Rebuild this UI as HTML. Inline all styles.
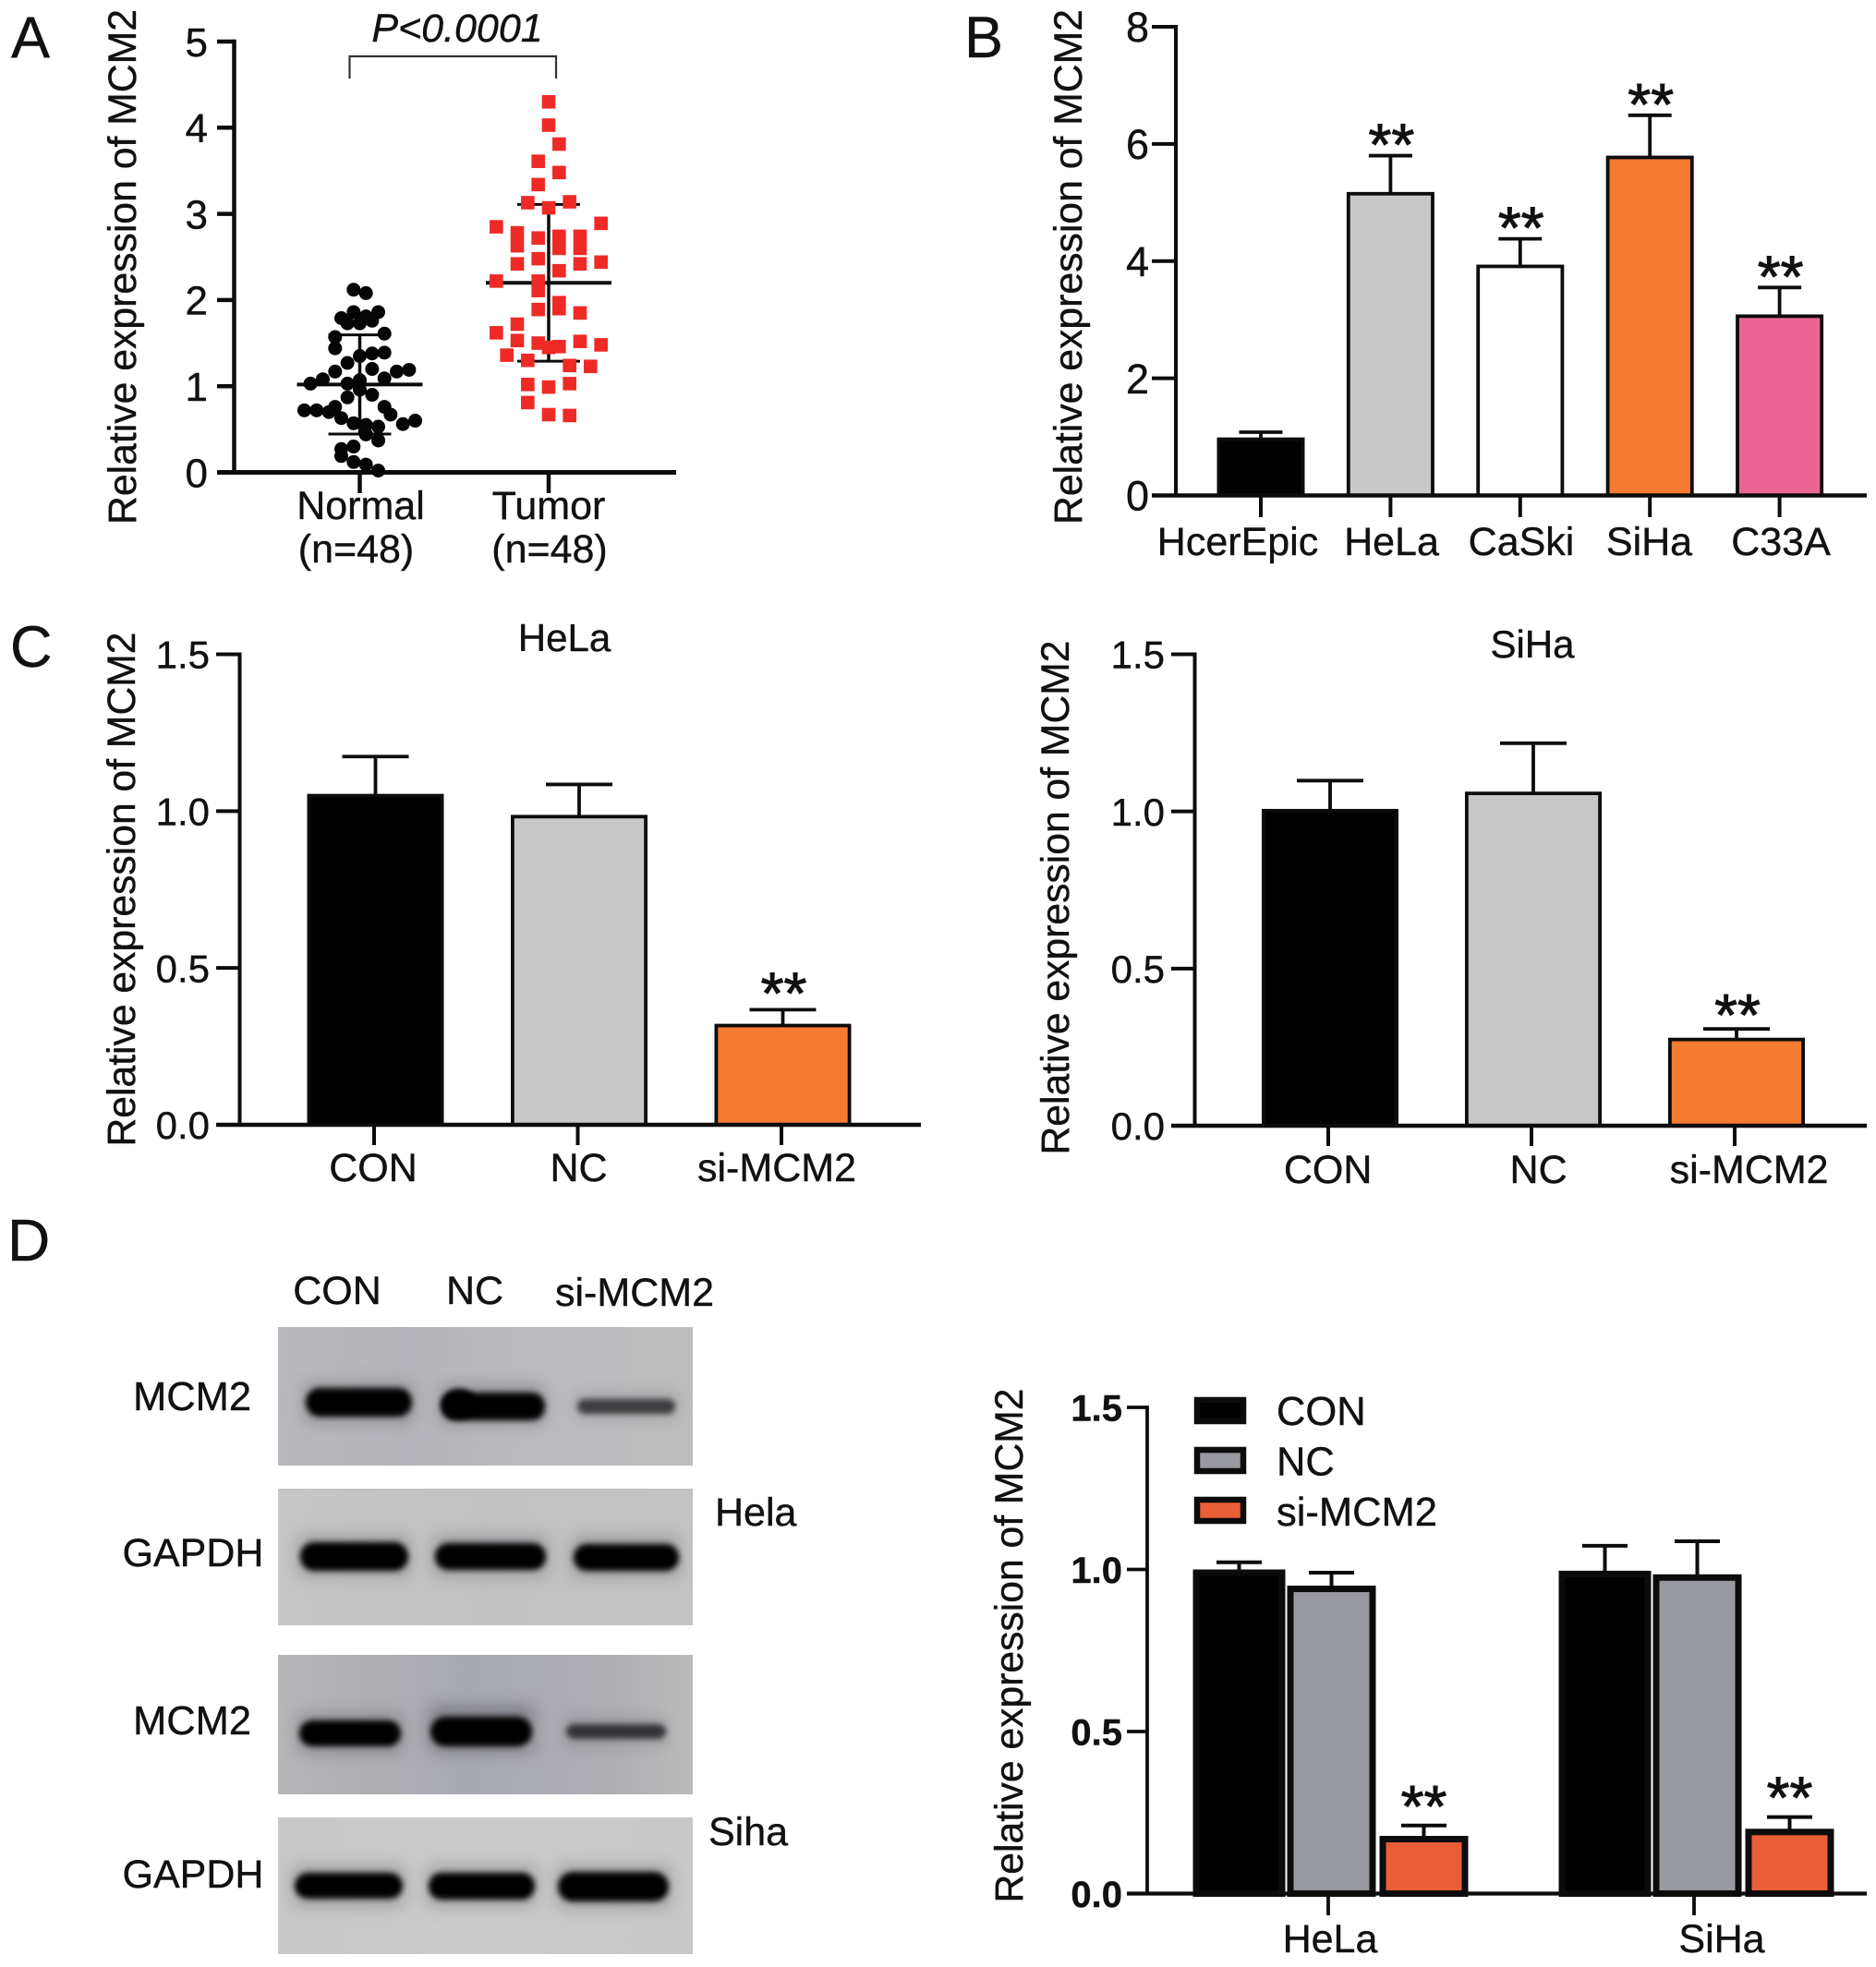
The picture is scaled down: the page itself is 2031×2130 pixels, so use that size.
<!DOCTYPE html>
<html lang="en">
<head>
<meta charset="utf-8">
<title>MCM2 expression figure</title>
<style>
html,body{margin:0;padding:0;background:#fff;}
body{width:2031px;height:2130px;overflow:hidden;}
svg{position:absolute;left:0;top:0;display:block;}
text{font-family:"Liberation Sans",sans-serif;fill:#111;stroke:#111;stroke-width:.4px;}
</style>
</head>
<body>
<svg id="figure" xmlns="http://www.w3.org/2000/svg" width="2031" height="2130" viewBox="0 0 2031 2130">
  <defs>
    <filter id="b3" x="-20%" y="-60%" width="140%" height="220%"><feGaussianBlur stdDeviation="3.2"/></filter>
    <filter id="b9" x="-20%" y="-100%" width="140%" height="300%"><feGaussianBlur stdDeviation="9"/></filter>
    <linearGradient id="g1" x1="0" x2="1" y1="0" y2="0"><stop offset="0" stop-color="#b9b9bd"/><stop offset=".3" stop-color="#b4b4ba"/><stop offset=".65" stop-color="#bcbcc0"/><stop offset="1" stop-color="#bdbdbd"/></linearGradient>
    <linearGradient id="g2" x1="0" x2="1" y1="0" y2="0"><stop offset="0" stop-color="#c6c6c6"/><stop offset=".5" stop-color="#c1c1c2"/><stop offset="1" stop-color="#c3c3c3"/></linearGradient>
    <linearGradient id="g3" x1="0" x2="1" y1="0" y2="0"><stop offset="0" stop-color="#b6b6b8"/><stop offset=".45" stop-color="#a8a8b0"/><stop offset=".75" stop-color="#acacb2"/><stop offset="1" stop-color="#bbbbbb"/></linearGradient>
    <linearGradient id="g4" x1="0" x2="1" y1="0" y2="0"><stop offset="0" stop-color="#c8c8c8"/><stop offset=".5" stop-color="#cacaca"/><stop offset="1" stop-color="#c8c8c8"/></linearGradient>
  </defs>

  <text x="12" y="62" font-size="63">A</text>
  <text x="1044" y="62" font-size="63">B</text>
  <text x="11" y="722" font-size="63">C</text>
  <text x="8" y="1365" font-size="64">D</text>

  <g>
    <text x="365" y="1412" font-size="43" text-anchor="middle">CON</text>
    <text x="514" y="1412" font-size="43" text-anchor="middle">NC</text>
    <text x="687" y="1414" font-size="43" text-anchor="middle">si-MCM2</text>
    <text x="208" y="1527" font-size="43.5" text-anchor="middle">MCM2</text>
    <text x="209" y="1696" font-size="43" text-anchor="middle">GAPDH</text>
    <text x="208" y="1878" font-size="43.5" text-anchor="middle">MCM2</text>
    <text x="209" y="2044" font-size="43" text-anchor="middle">GAPDH</text>
    <text x="774" y="1652" font-size="43">Hela</text>
    <text x="767" y="1998" font-size="43">Siha</text>

    <g>
      <rect x="301" y="1437" width="449" height="150" fill="url(#g1)"/>
      <rect x="330" y="1498" width="117" height="42" fill="#6a6a6e" opacity=".5" filter="url(#b9)"/>
      <rect x="477" y="1500" width="113" height="42" fill="#6a6a6e" opacity=".5" filter="url(#b9)"/>
      <rect x="623" y="1508" width="109" height="28" fill="#808084" opacity=".4" filter="url(#b9)"/>
      <rect x="331" y="1503" width="115" height="31" rx="15" fill="#040404" filter="url(#b3)"/>
      <rect x="478" y="1508" width="112" height="30" rx="14" fill="#040404" filter="url(#b3)"/>
      <ellipse cx="497" cy="1520" rx="19" ry="16" fill="#040404" filter="url(#b3)"/>
      <rect x="625" y="1515" width="106" height="16" rx="8" fill="#3e3e40" filter="url(#b3)"/>
    </g>
    <g>
      <rect x="301" y="1612" width="449" height="148" fill="url(#g2)"/>
      <rect x="323" y="1664" width="120" height="42" fill="#707074" opacity=".5" filter="url(#b9)"/>
      <rect x="470" y="1664" width="122" height="42" fill="#707074" opacity=".5" filter="url(#b9)"/>
      <rect x="620" y="1665" width="115" height="42" fill="#707074" opacity=".5" filter="url(#b9)"/>
      <rect x="325" y="1670" width="117" height="31" rx="15" fill="#040404" filter="url(#b3)"/>
      <rect x="471" y="1671" width="120" height="29" rx="14" fill="#040404" filter="url(#b3)"/>
      <rect x="621" y="1672" width="114" height="29" rx="14" fill="#040404" filter="url(#b3)"/>
    </g>
    <g>
      <rect x="301" y="1792" width="449" height="151" fill="url(#g3)"/>
      <rect x="323" y="1856" width="112" height="42" fill="#66666c" opacity=".5" filter="url(#b9)"/>
      <rect x="465" y="1848" width="112" height="48" fill="#5c5c62" opacity=".6" filter="url(#b9)"/>
      <rect x="612" y="1860" width="109" height="30" fill="#77777c" opacity=".4" filter="url(#b9)"/>
      <rect x="324" y="1863" width="110" height="28" rx="14" fill="#040404" filter="url(#b3)"/>
      <rect x="466" y="1859" width="110" height="32" rx="16" fill="#040404" filter="url(#b3)"/>
      <rect x="613" y="1867" width="108" height="16" rx="8" fill="#353538" filter="url(#b3)"/>
    </g>
    <g>
      <rect x="301" y="1968" width="449" height="148" fill="url(#g4)"/>
      <rect x="318" y="2021" width="119" height="42" fill="#707074" opacity=".5" filter="url(#b9)"/>
      <rect x="463" y="2021" width="117" height="42" fill="#707074" opacity=".5" filter="url(#b9)"/>
      <rect x="603" y="2021" width="122" height="44" fill="#707074" opacity=".5" filter="url(#b9)"/>
      <rect x="319" y="2028" width="117" height="28" rx="14" fill="#040404" filter="url(#b3)"/>
      <rect x="464" y="2028" width="115" height="29" rx="14" fill="#040404" filter="url(#b3)"/>
      <rect x="604" y="2027" width="120" height="32" rx="16" fill="#040404" filter="url(#b3)"/>
    </g>
  </g>
</svg>

<script>
// ---------- Panel A data ----------
const scatterCategories = ['Normal', 'Tumor'];
const scatterSampleSizes = ['(n=48)', '(n=48)'];
const scatterTicks = [0, 1, 2, 3, 4, 5];
const normalValues = [2.12,2.08,1.86,1.86,1.81,1.79,1.73,1.73,1.76,1.57,1.61,1.44,1.35,1.38,1.39,1.27,1.17,1.20,1.17,1.19,1.08,1.03,1.09,1.03,1.07,0.96,0.87,0.90,0.76,0.72,0.72,0.70,0.76,0.67,0.63,0.60,0.56,0.57,0.55,0.53,0.44,0.37,0.30,0.27,0.19,0.12,0.09,0.02];
const normalSwarmSlots = [-1,1,3,-1,1,-3,-2,0,2,-4,4,-4,0,2,4,-2,-4,2,6,8,-6,-8,4,-2,0,0,-2,2,-4,-9,-7,-5,4,5,-3,9,7,-1,1,3,1,3,-1,-3,-3,-1,1,3];
const tumorValues = [4.30,4.03,3.81,3.61,3.48,3.34,3.13,3.14,3.07,2.85,2.89,2.78,2.63,2.72,2.74,2.60,2.74,2.60,2.42,2.48,2.34,2.42,2.44,2.22,2.22,2.11,1.89,1.97,1.90,1.85,1.72,1.62,1.53,1.50,1.45,1.46,1.52,1.48,1.36,1.30,1.24,1.23,1.02,0.99,1.03,0.81,0.67,0.66];
const tumorSwarmSlots = [0,0,1,-1,1,-1,-2,2,0,-5,5,-3,-3,-1,1,1,3,3,-3,-1,1,3,5,-5,-1,-1,-1,1,1,3,-3,-5,-3,-1,0,1,3,5,-4,-2,2,4,-2,0,2,-2,0,2];
const scatterMeans = [1.02, 2.20];
const scatterSDs = [0.575, 0.91];
const scatterPValue = 'P<0.0001';

// ---------- Panel B data ----------
const cellLines = ['HcerEpic', 'HeLa', 'CaSki', 'SiHa', 'C33A'];
const cellMeans = [0.99, 5.18, 3.94, 5.80, 3.09];
const cellErrors = [0.09, 0.62, 0.44, 0.69, 0.46];
const cellStars = ['', '**', '**', '**', '**'];
const cellTicks = [0, 2, 4, 6, 8];

// ---------- Panel C data ----------
const knockdownGroups = ['CON', 'NC', 'si-MCM2'];
const knockdownTicks = [0, 0.5, 1, 1.5];
const helaMeans = [1.055, 0.988, 0.322];
const helaErrors = [0.119, 0.097, 0.045];
const sihaMeans = [1.008, 1.063, 0.280];
const sihaErrors = [0.090, 0.154, 0.028];
const knockdownStars = ['', '', '**'];

// ---------- Panel D data ----------
const blotCellLines = ['HeLa', 'SiHa'];
const blotTicks = [0, 0.5, 1, 1.5];
const blotHelaMeans = [1.000, 0.950, 0.178];
const blotHelaErrors = [0.022, 0.040, 0.032];
const blotSihaMeans = [0.996, 0.985, 0.200];
const blotSihaErrors = [0.077, 0.102, 0.036];

const INK = '#0c0c0c';
const SVGNS = 'http://www.w3.org/2000/svg';
const root = document.getElementById('figure');

function node(tag, attrs, parent) {
  const el = document.createElementNS(SVGNS, tag);
  for (const k in attrs) el.setAttribute(k, attrs[k]);
  (parent || root).appendChild(el);
  return el;
}
function scaleY(ax, v) {
  return ax.y0 + (ax.yTop - ax.y0) * v / ax.max;
}
function drawYTitle(parent, ax) {
  const t = node('text', {transform: 'translate(' + ax.titleX + ' ' + ax.titleY + ') rotate(-90)', 'text-anchor': 'middle', 'font-size': 43, textLength: ax.titleLen, lengthAdjust: 'spacingAndGlyphs'}, parent);
  t.textContent = 'Relative expression of MCM2';
  
  
}
function drawAxes(parent, ax, ticks, format) {
  const yLine = node('line', {x1: ax.x, x2: ax.x, y1: ax.yTop - ax.w / 2, y2: ax.y0 + ax.w / 2, stroke: INK, 'stroke-width': ax.w}, parent);
  
  
  const xLine = node('line', {x1: ax.xFrom, x2: ax.xTo, y1: ax.y0, y2: ax.y0, stroke: INK, 'stroke-width': ax.w + 0.5}, parent);
  
  
  ticks.forEach(function (v) {
    const y = scaleY(ax, v);
    if (v !== 0) {
      const tk = node('line', {x1: ax.xFrom, x2: ax.x, y1: y, y2: y, stroke: INK, 'stroke-width': ax.w}, parent);
      
      
    }
    const lb = node('text', {x: ax.tickEnd, y: y + ax.tickFs * 0.36, 'font-size': ax.tickFs, 'text-anchor': 'end', 'font-weight': ax.tickWeight || 'normal'}, parent);
    lb.textContent = format(v);
    
    
  });
}
function drawXTick(parent, ax, x) {
  const tk = node('line', {x1: x, x2: x, y1: ax.y0, y2: ax.tickBottom, stroke: INK, 'stroke-width': ax.w}, parent);
  
  
}
function drawXLabel(parent, txt, x, y) {
  const lb = node('text', {x: x, y: y, 'font-size': 43, 'text-anchor': 'middle'}, parent);
  lb.textContent = txt;
  
  
}
function drawErrorBar(parent, ax, x, mean, err, capHalf, sw) {
  const top = scaleY(ax, mean + err);
  const stem = node('line', {x1: x, x2: x, y1: top, y2: scaleY(ax, mean) + 3, stroke: INK, 'stroke-width': sw}, parent);
  
  
  const cap = node('line', {x1: x - capHalf, x2: x + capHalf, y1: top, y2: top, stroke: INK, 'stroke-width': sw}, parent);
  
  
}
function drawBar(parent, ax, cx, width, v, fill, sw) {
  const top = scaleY(ax, v);
  const b = node('rect', {x: cx - width / 2 + sw / 2, y: top + sw / 2, width: width - sw, height: Math.max(0, ax.y0 - top - sw / 2), fill: fill, stroke: INK, 'stroke-width': sw}, parent);
  
  
}
function drawStars(parent, ax, x, mean, err, gap) {
  const center = scaleY(ax, mean + err) - gap;
  const s = node('text', {x: x + 1, y: center + 31, 'font-size': 64, 'text-anchor': 'middle', style: 'stroke-width:1px'}, parent);
  s.textContent = '**';
  
  
}
function fmt1(v) { return v.toFixed(1); }
function fmt0(v) { return String(v); }

// ---------- Panel A ----------
(function () {
  const g = node('g', {});
  
  
  const ax = {x: 253.5, y0: 511.5, yTop: 45, max: 5, xFrom: 235, xTo: 732, w: 4.5, tickEnd: 225, tickFs: 44, tickBottom: 534, titleX: 147, titleY: 289, titleLen: 558};
  const centers = [389.5, 594];
  drawYTitle(g, ax);
  drawAxes(g, ax, scatterTicks, fmt0);
  [['normal', 0], ['tumor', 1]].forEach(function (p) {
    const i = p[1];
    const cx = centers[i];
    const mean = node('line', {x1: cx - 68, x2: cx + 68, y1: scaleY(ax, scatterMeans[i]), y2: scaleY(ax, scatterMeans[i]), stroke: INK, 'stroke-width': 4}, g);
    
    
    const hi = scatterMeans[i] + scatterSDs[i];
    const lo = scatterMeans[i] - scatterSDs[i];
    const stem = node('line', {x1: cx, x2: cx, y1: scaleY(ax, hi), y2: scaleY(ax, lo), stroke: INK, 'stroke-width': 3.5}, g);
    
    
    [hi, lo].forEach(function (v) {
      const cap = node('line', {x1: cx - 34, x2: cx + 34, y1: scaleY(ax, v), y2: scaleY(ax, v), stroke: INK, 'stroke-width': 3}, g);
      
      
    });
    drawXTick(g, ax, cx);
    drawXLabel(g, scatterCategories[i], cx + (i ? 0 : 1), 562);
    drawXLabel(g, scatterSampleSizes[i], cx + (i ? 1 : -4), 609);
  });
  normalValues.forEach(function (v, i) {
    const c = node('circle', {cx: centers[0] + normalSwarmSlots[i] * 6.67, cy: scaleY(ax, v), r: 7.5, fill: '#050505'}, g);
    
    
  });
  tumorValues.forEach(function (v, i) {
    const r = node('rect', {x: centers[1] + tumorSwarmSlots[i] * 11.33 - 7.3, y: scaleY(ax, v) - 7.3, width: 14.6, height: 14.6, fill: '#ee2a26'}, g);
    
    
  });
  const br = node('path', {d: 'M378.5 85V61H602V85', fill: 'none', stroke: '#333', 'stroke-width': 2.2}, g);
  
  
  const p = node('text', {x: 495, y: 45, 'font-size': 43, 'font-style': 'italic', 'text-anchor': 'middle'}, g);
  p.textContent = scatterPValue;
  
  
})();

// ---------- Simple bar charts (B and C) ----------
function barChart(name, ax, cats, means, errors, stars, ticks, format, fills) {
  const g = node('g', {});
  
  
  drawYTitle(g, ax);
  cats.forEach(function (c, i) {
    const cx = ax.barStart + i * ax.barStep;
    drawErrorBar(g, ax, cx, means[i], errors[i], ax.capHalf, 3.8);
    drawBar(g, ax, cx, ax.barWidth, means[i], fills[i], 3.8);
    drawXTick(g, ax, ax.tickStart + i * ax.barStep);
    const nudge = ax.labelNudge[c] || 0;
    drawXLabel(g, c, ax.labelStart + i * ax.labelStep + nudge, ax.labelY);
    if (stars[i]) drawStars(g, ax, cx, means[i], errors[i], ax.starGap);
  });
  drawAxes(g, ax, ticks, format);
  return g;
}
barChart('panel-b-cell-lines',
  {x: 1273, y0: 536.5, yTop: 29, max: 8, xFrom: 1247, xTo: 2021, w: 4, tickEnd: 1244, tickFs: 45, tickBottom: 560, titleX: 1171, titleY: 289, titleLen: 558,
   barStart: 1365, barStep: 140.4, barWidth: 95, capHalf: 23.5, tickStart: 1365, labelStart: 1366, labelStep: 140.5, labelY: 601, labelNudge: {HcerEpic: -26, HeLa: 0, CaSki: 0, SiHa: -2}, starGap: 21},
  cellLines, cellMeans, cellErrors, cellStars, cellTicks, fmt0, ['#000', '#c8c8c8', '#fff', '#f47b30', '#ea6494']);
barChart('panel-c-hela',
  {x: 259.5, y0: 1218, yTop: 708.5, max: 1.5, xFrom: 234, xTo: 997, w: 4, tickEnd: 227, tickFs: 42, tickBottom: 1240, titleX: 146, titleY: 963, titleLen: 557,
   barStart: 406.5, barStep: 220.5, barWidth: 148, capHalf: 36, tickStart: 405, labelStart: 404, labelStep: 218.5, labelY: 1279, labelNudge: {NC: 4}, starGap: 27},
  knockdownGroups, helaMeans, helaErrors, knockdownStars, knockdownTicks, fmt1, ['#000', '#c8c8c8', '#f47b30']);
barChart('panel-c-siha',
  {x: 1293.5, y0: 1219, yTop: 708.5, max: 1.5, xFrom: 1268, xTo: 2021, w: 4, tickEnd: 1261, tickFs: 42, tickBottom: 1241, titleX: 1157, titleY: 972, titleLen: 557,
   barStart: 1440, barStep: 220, barWidth: 148, capHalf: 36, tickStart: 1438, labelStart: 1437.6, labelStep: 228, labelY: 1281, labelNudge: {}, starGap: 24},
  knockdownGroups, sihaMeans, sihaErrors, knockdownStars, knockdownTicks, fmt1, ['#000', '#c8c8c8', '#f47b30']);

// titles for panel C
(function () {
  const t1 = node('text', {x: 611, y: 705, 'font-size': 42, 'text-anchor': 'middle'});
  t1.textContent = 'HeLa';
  
  
  const t2 = node('text', {x: 1659, y: 712, 'font-size': 42, 'text-anchor': 'middle'});
  t2.textContent = 'SiHa';
  
  
})();

// ---------- Panel D grouped bars ----------
(function () {
  const g = node('g', {});
  
  
  const ax = {x: 1242, y0: 2050.5, yTop: 1524, max: 1.5, xFrom: 1220, xTo: 2021, w: 3.8, tickEnd: 1215, tickFs: 40, tickWeight: 'bold', tickBottom: 2074, titleX: 1107, titleY: 1782, titleLen: 557};
  const fills = ['#000', '#98989f', '#ea5e37'];
  const seriesByGroup = [[blotHelaMeans, blotHelaErrors], [blotSihaMeans, blotSihaErrors]];
  drawYTitle(g, ax);
  blotCellLines.forEach(function (name, gi) {
    const mid = 1440 + gi * 396;
    const means = seriesByGroup[gi][0];
    const errs = seriesByGroup[gi][1];
    knockdownGroups.forEach(function (c, i) {
      const cx = mid + (i - 1) * 100 + 1.5;
      drawErrorBar(g, ax, cx, means[i], errs[i], 24.5, 4);
      drawBar(g, ax, cx, i === 0 ? 100 : 96, means[i], fills[i], 7);
      if (knockdownStars[i]) drawStars(g, ax, cx - 1, means[i], errs[i], 30);
    });
    drawXTick(g, ax, mid - 2);
    drawXLabel(g, name, mid + (gi ? 28 : 0), 2114);
  });
  drawAxes(g, ax, blotTicks, fmt1);
  knockdownGroups.forEach(function (c, i) {
    const top = 1513 + i * 54;
    const sw = node('rect', {x: 1296, y: top + 3, width: 50, height: 23, fill: fills[i], stroke: INK, 'stroke-width': 6.5}, g);
    
    
    const tx = node('text', {x: 1382, y: top + 30 + i * 0.5, 'font-size': 43.5}, g);
    tx.textContent = c;
    
    
  });
})();
</script>
</body>
</html>
